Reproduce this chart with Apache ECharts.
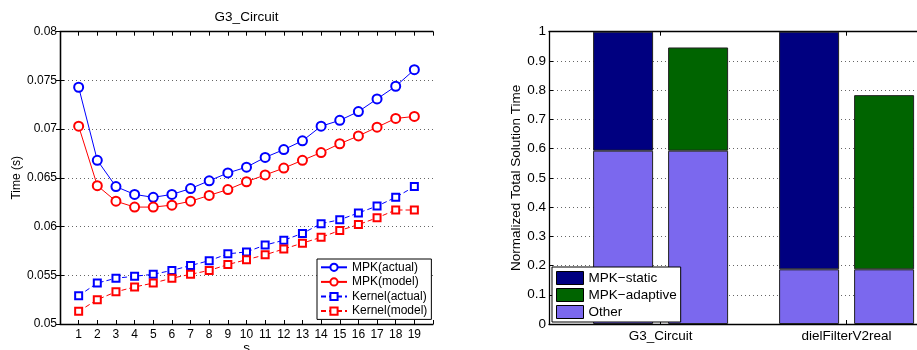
<!DOCTYPE html>
<html>
<head>
<meta charset="utf-8">
<script src="https://cdn.jsdelivr.net/npm/echarts@6/dist/echarts.min.js"></script>
<style>html,body{margin:0;padding:0;background:#fff;}#c{width:917px;height:350px;}</style>
</head>
<body>
<div id="c"></div>
<script>
// ---- Left chart data (G3_Circuit timing vs s) ----
const sValues = [1,2,3,4,5,6,7,8,9,10,11,12,13,14,15,16,17,18,19];
const mpkActual = [0.0743,0.0668,0.0641,0.0633,0.0630,0.0633,0.0639,0.0647,0.0655,0.0661,0.0671,0.0679,0.0688,0.0703,0.0709,0.0718,0.0731,0.0744,0.0761];
const mpkModel = [0.0703,0.0642,0.0626,0.0620,0.0620,0.0622,0.0626,0.0632,0.0638,0.0646,0.0653,0.0660,0.0668,0.0676,0.0685,0.0693,0.0702,0.0711,0.0713];
const kernelActual = [0.0529,0.0542,0.0547,0.0549,0.0551,0.0555,0.0560,0.0565,0.0572,0.0574,0.0581,0.0586,0.0593,0.0603,0.0607,0.0614,0.0621,0.0630,0.0641];
const kernelModel = [0.0513,0.0525,0.0533,0.0538,0.0542,0.0547,0.0551,0.0555,0.0561,0.0566,0.0571,0.0577,0.0583,0.0589,0.0596,0.0602,0.0609,0.0617,0.0617];
const lineNames = ['MPK(actual)','MPK(model)','Kernel(actual)','Kernel(model)'];

// ---- Right chart data (normalized total solution time) ----
const matrices = ['G3_Circuit','dielFilterV2real'];
const matrixPos = [1, 2];
const otherTime = [0.593, 0.187];
const staticTotal = [1.0, 1.0];
const adaptiveTotal = [0.946, 0.783];
const barNames = ['MPK\u2212static','MPK\u2212adaptive','Other'];

const FONT = '"Liberation Sans", Arial, Helvetica, sans-serif';
const chart = echarts.init(document.getElementById('c'), null, {renderer:'canvas'});

const axisLine = {show:true, lineStyle:{color:'#000', width:1.3}};
const tickIn = {show:true, inside:true, length:4, lineStyle:{color:'#000', width:1}};
const dotted = {show:true, lineStyle:{color:'#666', width:1, type:[1,3]}};
const lbl12 = {color:'#000', fontSize:12, fontFamily:FONT};
const lbl135 = {color:'#000', fontSize:13.5, fontFamily:FONT};

function pts(arr){ return sValues.map((x,i)=>[x, arr[i]]); }
function lineSeries(name, data, color, symbol, size, dashed){
  return {
    type:'line', name:name, xAxisIndex:0, yAxisIndex:0, data:pts(data),
    symbol:symbol, symbolSize:size, showSymbol:true,
    lineStyle:{color:color, width:1, type: dashed ? [5,3] : 'solid'},
    itemStyle:{color:color, borderColor:color, borderWidth:1},
    emphasis:{disabled:true}
  };
}
// bar data stored as [value, position] so the value column is the stacked one
function barData(arr){ return matrixPos.map((x,i)=>[arr[i], x]); }
function barSeries(name, stack, arr, color){
  return {type:'bar', name:name, xAxisIndex:2, yAxisIndex:2, stack:stack,
    encode:{x:1, y:0}, barWidth:60, barGap:'25%', data:barData(arr),
    itemStyle:{color:color, borderColor:'#222', borderWidth:1}, emphasis:{disabled:true}};
}

const option = {
  animation:false,
  backgroundColor:'#fff',
  title:{
    text:'G3_Circuit', left:246.5, top:10, padding:0, textAlign:'center',
    textStyle:{fontSize:13.5, fontWeight:'normal', color:'#000', fontFamily:FONT}
  },
  grid:[
    {left:60, top:31.7, width:373, height:292.3, outerBoundsMode:'none', containLabel:false},
    {left:549, top:31.7, width:409.2, height:292.3, outerBoundsMode:'none', containLabel:false}
  ],
  xAxis:[
    {gridIndex:0, type:'value', min:0, max:20, interval:1, position:'bottom',
     name:'s', nameLocation:'middle', nameGap:17, nameMoveOverlap:false, nameTextStyle:lbl135,
     axisLine:axisLine, axisTick:tickIn,
     axisLabel:Object.assign({margin:5, formatter:v => (v>=1 && v<=19) ? String(v) : ''}, lbl12),
     splitLine:{show:false}},
    {gridIndex:0, type:'value', min:0, max:20, interval:1, position:'top',
     axisLine:axisLine, axisTick:tickIn, axisLabel:{show:false}, splitLine:{show:false}},
    {gridIndex:1, type:'value', min:0.4, max:2.6, position:'bottom',
     axisLine:axisLine,
     axisTick:Object.assign({customValues:matrixPos}, tickIn),
     axisLabel:Object.assign({margin:5, customValues:matrixPos, formatter:v => matrices[Math.round(v)-1] || ''}, lbl135),
     splitLine:{show:false}},
    {gridIndex:1, type:'value', min:0.4, max:2.6, position:'top',
     axisLine:axisLine,
     axisTick:Object.assign({customValues:matrixPos}, tickIn),
     axisLabel:{show:false}, splitLine:{show:false}}
  ],
  yAxis:[
    {gridIndex:0, type:'value', min:0.05, max:0.08, interval:0.005, position:'left',
     name:'Time (s)', nameLocation:'middle', nameGap:37, nameMoveOverlap:false, nameTextStyle:lbl12,
     axisLine:axisLine, axisTick:tickIn, axisLabel:Object.assign({margin:3}, lbl12),
     splitLine:dotted},
    {gridIndex:0, type:'value', min:0.05, max:0.08, interval:0.005, position:'right',
     axisLine:axisLine, axisTick:tickIn, axisLabel:{show:false}, splitLine:{show:false}},
    {gridIndex:1, type:'value', min:0, max:1, interval:0.1, position:'left',
     name:'Normalized Total Solution Time', nameLocation:'middle', nameGap:26, nameMoveOverlap:false, nameTextStyle:lbl135,
     axisLine:axisLine, axisTick:tickIn, axisLabel:Object.assign({margin:3}, lbl135),
     splitLine:dotted}
  ],
  legend:[
    {data:lineNames, orient:'vertical', left:317, top:259,
     backgroundColor:'#fff', borderColor:'#000', borderWidth:1, borderRadius:0,
     padding:[1,4,1,3], itemWidth:26, itemHeight:9, itemGap:0,
     textStyle:{color:'#000', fontSize:12, fontFamily:FONT, lineHeight:14.6}},
    {data:barNames, orient:'vertical', left:552, top:267, icon:'rect',
     backgroundColor:'#fff', borderColor:'#000', borderWidth:1, borderRadius:0,
     padding:[4,4,3,4], itemWidth:27, itemHeight:13, itemGap:3,
     itemStyle:{borderColor:'#000', borderWidth:1},
     textStyle:{color:'#000', fontSize:13.5, fontFamily:FONT}}
  ],
  series:[
    lineSeries(lineNames[0], mpkActual, '#0000ff', 'emptyCircle', 9, false),
    lineSeries(lineNames[1], mpkModel, '#ff0000', 'emptyCircle', 9, false),
    lineSeries(lineNames[2], kernelActual, '#0000ff', 'emptyRect', 7, true),
    lineSeries(lineNames[3], kernelModel, '#ff0000', 'emptyRect', 7, true),
    barSeries('Other', 'static', otherTime, '#7b68ee'),
    barSeries(barNames[0], 'static', staticTotal.map((t,i)=>t-otherTime[i]), '#000080'),
    barSeries('Other', 'adaptive', otherTime, '#7b68ee'),
    barSeries(barNames[1], 'adaptive', adaptiveTotal.map((t,i)=>t-otherTime[i]), '#006400')
  ]
};
chart.setOption(option);
</script>
</body>
</html>
